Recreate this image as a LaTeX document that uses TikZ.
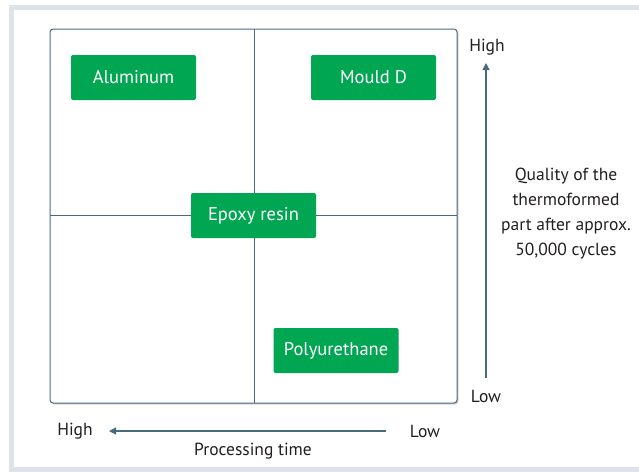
\documentclass[tikz,border=0pt]{standalone}
\usepackage{fontspec}
\setmainfont{PT Sans}
\usetikzlibrary{shadows,arrows.meta}
\definecolor{frm}{HTML}{DDE3E8}
\definecolor{axis}{HTML}{4A6A80}
\definecolor{grn}{HTML}{00A651}
\definecolor{txt}{HTML}{231F20}
\tikzset{
  gbox/.style={fill=grn, rounded corners=2pt, minimum width=125pt, minimum height=45pt, text=white, font=\fontsize{18.5}{20}\selectfont, inner sep=0pt},
  lbl/.style={text=txt, font=\fontsize{17.5}{20}\selectfont, inner sep=0pt},
  ax/.style={draw=axis, line width=1.3pt, -{Triangle[length=7pt,width=7pt]}}
}
\begin{document}
\begin{tikzpicture}[x=1pt,y=-1pt]
\useasboundingbox (0,0) rectangle (639,472);
\fill[white] (0,0) rectangle (639,472);
\draw[frm, line width=5pt] (11,7.5) -- (639,7.5);
\draw[frm, line width=5pt] (11,5) -- (11,472);
\draw[frm, line width=5pt] (8.5,469.5) -- (639,469.5);
\node[draw=axis, line width=1pt, rounded corners=3pt, minimum width=407pt, minimum height=374pt, inner sep=0pt, fill=white, drop shadow={shadow xshift=1.5pt, shadow yshift=-1.5pt, opacity=0.35}] (frame) at (253.5,216) {};
\coordinate (vt) at (254,29);
\coordinate (vb) at (254,403);
\coordinate (hl) at (50,215);
\coordinate (hr) at (457,215);
\draw[axis, line width=0.8pt] (vt) -- (vb);
\draw[axis, line width=0.8pt] (hl) -- (hr);
\node[gbox] (alu) at (133.5,77.5) {Aluminum};
\node[gbox] (mould) at (373.5,77.5) {Mould D};
\node[gbox] (epoxy) at (253.5,215.5) {Epoxy resin};
\node[gbox] (poly) at (336,350.5) {Polyurethane};
\node[lbl] (yhigh) at (487,47) {High};
\node[lbl] (ylow) at (486,396) {Low};
\coordinate (ya) at (486,378);
\coordinate (yb) at (486,63);
\draw[ax] (ya) -- (yb);
\node[lbl, align=center, font=\fontsize{17.5}{25}\selectfont] (qual) at (566,213.5) {Quality of the\\thermoformed\\part after approx.\\50,000 cycles};
\node[lbl] (xhigh) at (75,431) {High};
\node[lbl] (xlow) at (425,431) {Low};
\coordinate (xa) at (386,431);
\coordinate (xb) at (109,431);
\draw[ax] (xa) -- (xb);
\node[lbl] (ptime) at (253,451) {Processing time};
\end{tikzpicture}
\end{document}
